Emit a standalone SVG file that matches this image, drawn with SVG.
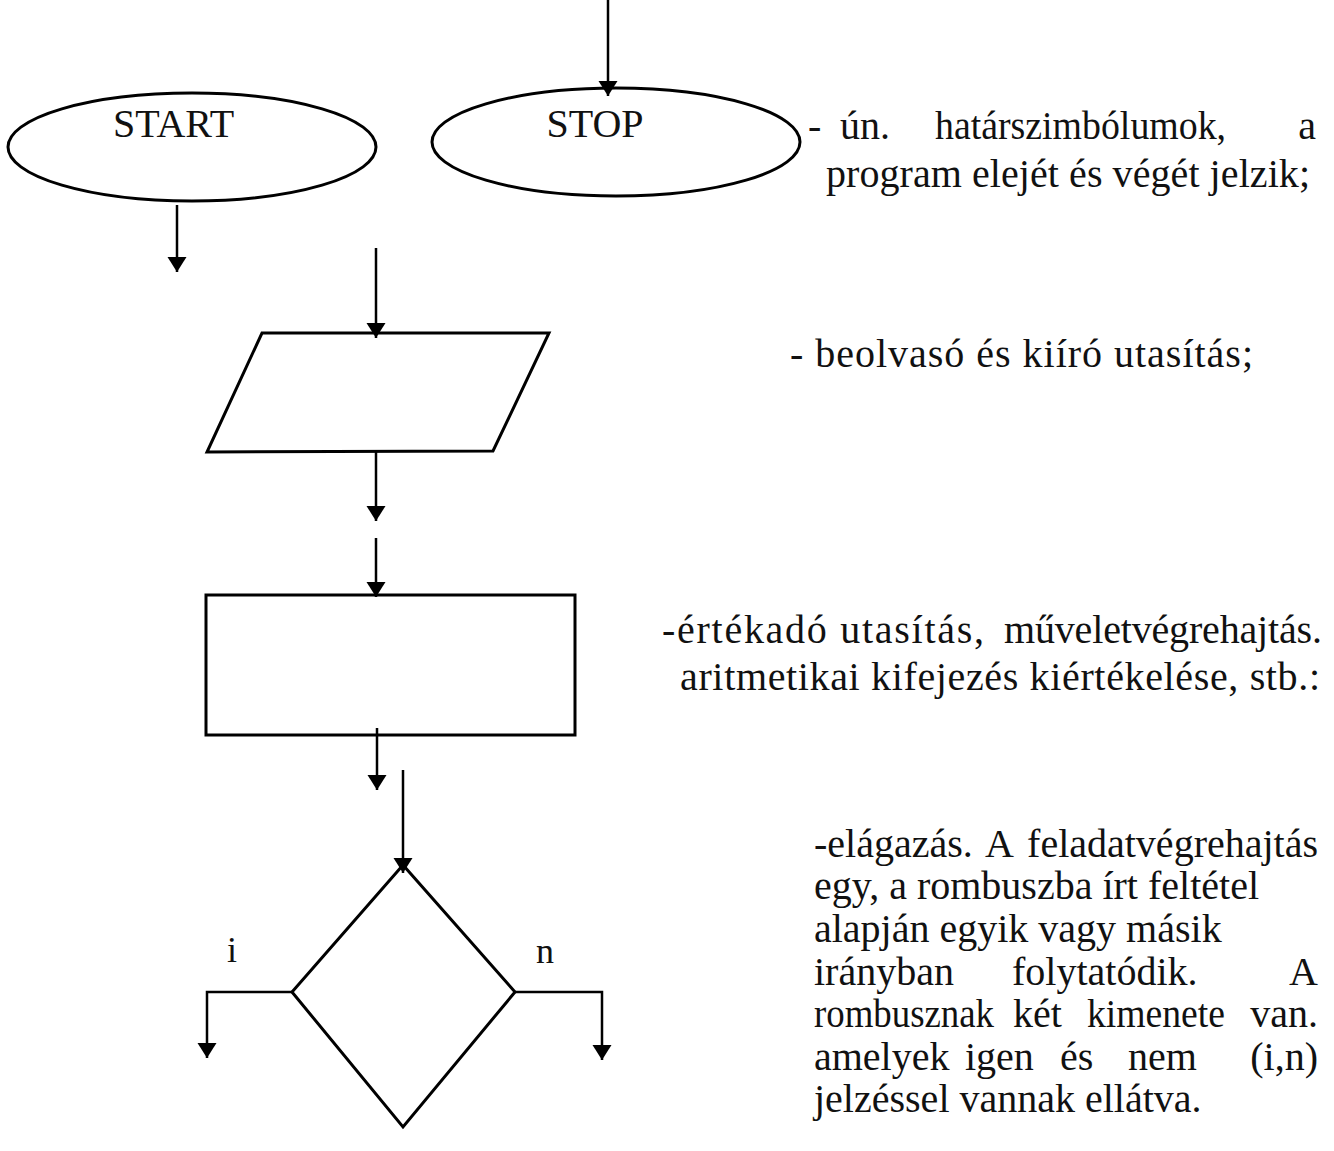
<svg xmlns="http://www.w3.org/2000/svg" width="1334" height="1151" viewBox="0 0 1334 1151">
<style>
.shape{fill:none;stroke:#000;stroke-width:3}
.line{fill:none;stroke:#000;stroke-width:2.5}
.lbl{font-family:"Liberation Serif","Times New Roman",serif;font-size:40px;fill:#111}
.txt{font-family:"Liberation Serif","Times New Roman",serif;font-size:40px;fill:#111}
.end{text-anchor:end}
</style>
<defs>
<marker id="arr" markerUnits="userSpaceOnUse" markerWidth="16" markerHeight="20" viewBox="0 0 16 20" refX="15" refY="10" orient="auto">
<path d="M0,0.5 L15,10 L0,19.5 Z" fill="#000"/>
</marker>
</defs>
<rect width="1334" height="1151" fill="#fff"/>
<g id="start">
<ellipse class="shape" cx="192" cy="147" rx="184" ry="54"/>
<text class="lbl" x="113" y="137">START</text>
</g>
<g id="stop">
<ellipse class="shape" cx="616" cy="142" rx="184" ry="54"/>
<text class="lbl" x="595" y="137" text-anchor="middle">STOP</text>
</g>
<g id="io">
<polygon class="shape" points="262,333 549,333 493,451 207,452"/>
</g>
<g id="process">
<rect class="shape" x="206" y="595" width="369" height="140"/>
</g>
<g id="decision">
<polygon class="shape" points="403,865 515,992 403,1127 292,992"/>
<text class="lbl" x="232" y="962" text-anchor="middle" style="font-size:36px">i</text>
<text class="lbl" x="545" y="963" text-anchor="middle" style="font-size:36px">n</text>
</g>
<g id="connectors">
<line class="line" x1="608" y1="0" x2="608" y2="96" marker-end="url(#arr)"/>
<line class="line" x1="177" y1="205" x2="177" y2="272" marker-end="url(#arr)"/>
<line class="line" x1="376" y1="248" x2="376" y2="338" marker-end="url(#arr)"/>
<line class="line" x1="376" y1="452" x2="376" y2="521" marker-end="url(#arr)"/>
<line class="line" x1="376" y1="538" x2="376" y2="597" marker-end="url(#arr)"/>
<line class="line" x1="377" y1="728" x2="377" y2="790" marker-end="url(#arr)"/>
<line class="line" x1="403" y1="770" x2="403" y2="873" marker-end="url(#arr)"/>
<polyline class="line" points="292,992 207,992 207,1058" marker-end="url(#arr)" stroke="#777"/>
<polyline class="line" points="515,992 602,992 602,1060" marker-end="url(#arr)"/>
</g>
<g id="descriptions">
<text class="txt" x="808" y="139">-</text>
<text class="txt" x="840" y="139">ún.</text>
<text class="txt" x="935" y="139" textLength="291" lengthAdjust="spacingAndGlyphs">határszimbólumok,</text>
<text class="txt end" x="1316" y="139">a</text>
<text class="txt" x="826" y="187" textLength="484" lengthAdjust="spacing">program elejét és végét jelzik;</text>
<text class="txt" x="790" y="367" textLength="463" lengthAdjust="spacing">- beolvasó és kiíró utasítás;</text>
<text class="txt" x="662" y="643" textLength="322" lengthAdjust="spacing">-értékadó utasítás,</text>
<text class="txt end" x="1322" y="643" textLength="318" lengthAdjust="spacing">műveletvégrehajtás.</text>
<text class="txt" x="680" y="690" textLength="640" lengthAdjust="spacing">aritmetikai kifejezés kiértékelése, stb.:</text>
<text class="txt" x="814" y="857">-elágazás.</text>
<text class="txt" x="985" y="857">A</text>
<text class="txt end" x="1318" y="857">feladatvégrehajtás</text>
<text class="txt" x="814" y="899">egy, a rombuszba írt feltétel</text>
<text class="txt" x="814" y="942">alapján egyik vagy másik</text>
<text class="txt" x="814" y="985">irányban</text>
<text class="txt" x="1012" y="985">folytatódik.</text>
<text class="txt end" x="1318" y="985">A</text>
<text class="txt" x="814" y="1027" textLength="180" lengthAdjust="spacingAndGlyphs">rombusznak</text>
<text class="txt" x="1013" y="1027">két</text>
<text class="txt" x="1087" y="1027" textLength="138" lengthAdjust="spacingAndGlyphs">kimenete</text>
<text class="txt end" x="1318" y="1027">van.</text>
<text class="txt" x="814" y="1070">amelyek</text>
<text class="txt" x="965" y="1070">igen</text>
<text class="txt" x="1060" y="1070">és</text>
<text class="txt" x="1128" y="1070">nem</text>
<text class="txt end" x="1318" y="1070">(i,n)</text>
<text class="txt" x="814" y="1112">jelzéssel vannak ellátva.</text>
</g>
</svg>
